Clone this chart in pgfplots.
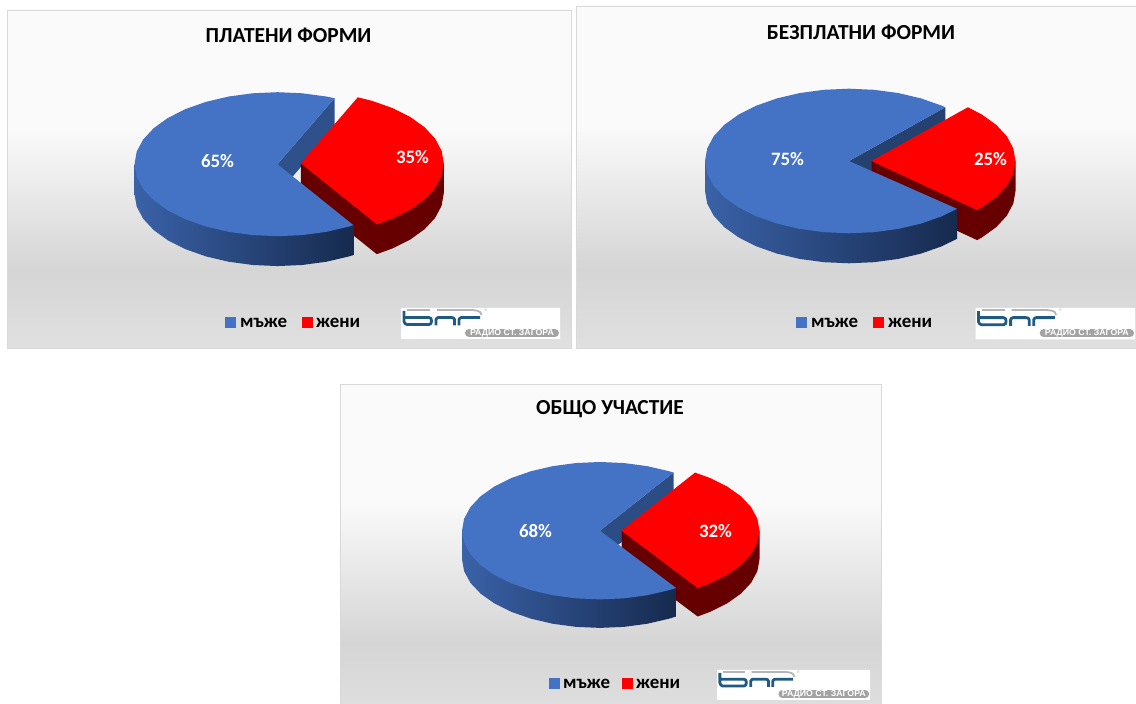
\documentclass[border=0pt]{standalone}
\usepackage{pgfplots}
\pgfplotsset{compat=1.18}
\usepackage{fontspec}
\setmainfont{Carlito}
\newfontfamily\logofont{Liberation Sans}
\definecolor{pA}{HTML}{E0E0E0}
\definecolor{pB}{HTML}{D5D5D5}
\definecolor{pC}{HTML}{FAFAFA}
\definecolor{bord}{HTML}{D9D9D9}
\definecolor{btop}{HTML}{4472C4}
\definecolor{bwl}{HTML}{3A62A8}
\definecolor{bwm}{HTML}{2C4C84}
\definecolor{bwr}{HTML}{162A4E}
\definecolor{dred}{HTML}{660000}
\definecolor{lgdark}{HTML}{1F5A82}
\definecolor{lggray}{HTML}{B4B4B4}
\definecolor{lgpill}{HTML}{A3A3A3}
\pgfdeclareverticalshading{panelbg}{100bp}{color(0bp)=(pA); color(25bp)=(pA); color(36.5bp)=(pB); color(57.5bp)=(pC); color(100bp)=(pC)}
\pgfplotsset{
  pixel/.style={at={(0bp,0bp)},anchor=south west,scale only axis,width=1136bp,height=704bp,
    xmin=0,xmax=1136,ymin=0,ymax=704,y dir=reverse,hide axis},
  pie/.style={anchor=south west,scale only axis,xmin=-1,xmax=1,ymin=-1,ymax=1,hide axis,clip=false},
}
\newcommand{\logo}[4]{%
\begin{axis}[anchor=south west,at={(#1bp,#2bp)},scale only axis,width=#3bp,height=#4bp,
  xmin=401,xmax=560,ymin=308,ymax=339,y dir=reverse,hide axis,clip=false]
\addplot[fill=white,draw=none,no marks] coordinates {(401,308) (560,308) (560,339) (401,339) (401,308)};
\addplot[draw=lggray,line width=1.8bp,no marks] coordinates {(407,310) (430,310)};
\addplot[draw=lggray,line width=1.8bp,no marks] coordinates {(437,310) (472,310) (477,310.6) (480,312) (481.5,315)};
\addplot[draw=lgdark,line width=2.8bp,no marks,line join=round] coordinates {(404,311) (404,321.5) (405,323.5) (407,324.5) (429,324.5) (431,323.5) (431.5,321) (431,318.5) (429,317.5) (404,317.5)};
\addplot[draw=lgdark,line width=2.8bp,no marks,line join=round] coordinates {(436,325.5) (436,319.5) (437,318) (438.5,317.5) (451.5,317.5) (453.5,318) (454.5,319.5) (454.5,325.5)};
\addplot[draw=lgdark,line width=2.8bp,no marks,line join=round] coordinates {(459,325.5) (459,319.5) (460,318) (461.5,317.5) (480,317.5)};
\addplot[draw=lgpill,line width=8bp,line cap=round,no marks] coordinates {(469,333) (555,333)};
\node[text=white,font=\logofont\bfseries\fontsize{8.8}{8.8}\selectfont,inner sep=0pt] at (axis cs:512,333.2) {РАДИО СТ. ЗАГОРА};
\node[text=lggray,font=\logofont\fontsize{4}{4}\selectfont,inner sep=0pt] at (axis cs:485.5,310.5) {®};
\end{axis}}
\begin{document}
\begin{tikzpicture}
% panels
\begin{axis}[pixel]
\addplot[fill=white,draw=none,no marks] coordinates {(0,0) (1136,0) (1136,704) (0,704) (0,0)};
\addplot[shade,shading=panelbg,draw=bord,line width=0.8bp,no marks] coordinates {(7.5,10) (571,10) (571,348) (7.5,348) (7.5,10)};
\addplot[shade,shading=panelbg,draw=bord,line width=0.8bp,no marks] coordinates {(576.5,6) (1137,6) (1137,348) (576.5,348) (576.5,6)};
\addplot[shade,shading=panelbg,draw=bord,line width=0.8bp,no marks] coordinates {(340.5,384) (881,384) (881,720) (340.5,720) (340.5,384)};
\end{axis}
% pie 1: 65 / 35
\begin{axis}[pie,at={(134.5bp,467.8bp)},width=286bp,height=144bp]
\addplot[fill=bwm!105!black,draw=none,no marks] coordinates {(0,0) (0.3987,0.9171) (0.3987,0.5021) (0,-0.415) (0,0)};
\addplot[fill=dred,draw=none,no marks,xshift=23.3bp,yshift=0.9bp] coordinates {(0,0) (0,-0.415) (0.5314,-1.2621) (0.6428,-1.181) (0.766,-1.0578) (0.866,-0.915) (0.9397,-0.757) (0.9848,-0.5886) (1,-0.415) (1,0) (0,0)};
\addplot[fill=red,draw=none,no marks,xshift=23.3bp,yshift=0.9bp] coordinates {(0,0) (0.5314,-0.8471) (0.6428,-0.766) (0.766,-0.6428) (0.866,-0.5) (0.9397,-0.342) (0.9848,-0.1736) (1,0) (0.9848,0.1736) (0.9397,0.342) (0.866,0.5) (0.766,0.6428) (0.6428,0.766) (0.5,0.866) (0.3987,0.9171) (0,0)};
\addplot[left color=bwl,middle color=bwm,right color=bwr,draw=none,no marks] coordinates {(-1,0) (0.5314,-0.8471) (0.5314,-1.2621) (0.5,-1.281) (0.342,-1.3547) (0.1736,-1.3998) (0,-1.415) (-0.1736,-1.3998) (-0.342,-1.3547) (-0.5,-1.281) (-0.6428,-1.181) (-0.766,-1.0578) (-0.866,-0.915) (-0.9397,-0.757) (-0.9848,-0.5886) (-1,-0.415) (-1,0)};
\addplot[fill=btop,draw=none,no marks] coordinates {(0,0) (0.3987,0.9171) (0.342,0.9397) (0.1736,0.9848) (0,1) (-0.1736,0.9848) (-0.342,0.9397) (-0.5,0.866) (-0.6428,0.766) (-0.766,0.6428) (-0.866,0.5) (-0.9397,0.342) (-0.9848,0.1736) (-1,0) (-0.9848,-0.1736) (-0.9397,-0.342) (-0.866,-0.5) (-0.766,-0.6428) (-0.6428,-0.766) (-0.5,-0.866) (-0.342,-0.9397) (-0.1736,-0.9848) (0,-1) (0.1736,-0.9848) (0.342,-0.9397) (0.5,-0.866) (0.5314,-0.8471) (0,0)};
\end{axis}
% pie 2: 75 / 25
\begin{axis}[pie,at={(705bp,470.7bp)},width=288bp,height=144.6bp]
\addplot[fill=bwm!85!black,draw=none,no marks] coordinates {(0,0) (0.6691,0.7431) (0.6691,0.3281) (0,-0.415) (0,0)};
\addplot[fill=dred,draw=none,no marks,xshift=22.5bp] coordinates {(0,0) (0,-0.415) (0.7337,-1.0944) (0.766,-1.0578) (0.866,-0.915) (0.9397,-0.757) (0.9848,-0.5886) (1,-0.415) (1,0) (0,0)};
\addplot[fill=red,draw=none,no marks,xshift=22.5bp] coordinates {(0,0) (0.7337,-0.6794) (0.766,-0.6428) (0.866,-0.5) (0.9397,-0.342) (0.9848,-0.1736) (1,0) (0.9848,0.1736) (0.9397,0.342) (0.866,0.5) (0.766,0.6428) (0.6691,0.7431) (0,0)};
\addplot[left color=bwl,middle color=bwm,right color=bwr,draw=none,no marks] coordinates {(-1,0) (0.75,-0.6614) (0.75,-1.0764) (0.6428,-1.181) (0.5,-1.281) (0.342,-1.3547) (0.1736,-1.3998) (0,-1.415) (-0.1736,-1.3998) (-0.342,-1.3547) (-0.5,-1.281) (-0.6428,-1.181) (-0.766,-1.0578) (-0.866,-0.915) (-0.9397,-0.757) (-0.9848,-0.5886) (-1,-0.415) (-1,0)};
\addplot[fill=btop,draw=none,no marks] coordinates {(0,0) (0.6691,0.7431) (0.6428,0.766) (0.5,0.866) (0.342,0.9397) (0.1736,0.9848) (0,1) (-0.1736,0.9848) (-0.342,0.9397) (-0.5,0.866) (-0.6428,0.766) (-0.766,0.6428) (-0.866,0.5) (-0.9397,0.342) (-0.9848,0.1736) (-1,0) (-0.9848,-0.1736) (-0.9397,-0.342) (-0.866,-0.5) (-0.766,-0.6428) (-0.6428,-0.766) (-0.5,-0.866) (-0.342,-0.9397) (-0.1736,-0.9848) (0,-1) (0.1736,-0.9848) (0.342,-0.9397) (0.5,-0.866) (0.6428,-0.766) (0.75,-0.6614) (0,0)};
\end{axis}
% pie 3: 68 / 32
\begin{axis}[pie,at={(462bp,104.6bp)},width=276bp,height=137.4bp]
\addplot[fill=bwm,draw=none,no marks] coordinates {(0,0) (0.5329,0.8462) (0.5329,0.4312) (0,-0.415) (0,0)};
\addplot[fill=dred,draw=none,no marks,xshift=21.5bp] coordinates {(0,0) (0,-0.415) (0.5519,-1.2489) (0.6428,-1.181) (0.766,-1.0578) (0.866,-0.915) (0.9397,-0.757) (0.9848,-0.5886) (1,-0.415) (1,0) (0,0)};
\addplot[fill=red,draw=none,no marks,xshift=21.5bp] coordinates {(0,0) (0.5519,-0.8339) (0.6428,-0.766) (0.766,-0.6428) (0.866,-0.5) (0.9397,-0.342) (0.9848,-0.1736) (1,0) (0.9848,0.1736) (0.9397,0.342) (0.866,0.5) (0.766,0.6428) (0.6428,0.766) (0.5329,0.8462) (0,0)};
\addplot[left color=bwl,middle color=bwm,right color=bwr,draw=none,no marks] coordinates {(-1,0) (0.5519,-0.8339) (0.5519,-1.2489) (0.5,-1.281) (0.342,-1.3547) (0.1736,-1.3998) (0,-1.415) (-0.1736,-1.3998) (-0.342,-1.3547) (-0.5,-1.281) (-0.6428,-1.181) (-0.766,-1.0578) (-0.866,-0.915) (-0.9397,-0.757) (-0.9848,-0.5886) (-1,-0.415) (-1,0)};
\addplot[fill=btop,draw=none,no marks] coordinates {(0,0) (0.5329,0.8462) (0.5,0.866) (0.342,0.9397) (0.1736,0.9848) (0,1) (-0.1736,0.9848) (-0.342,0.9397) (-0.5,0.866) (-0.6428,0.766) (-0.766,0.6428) (-0.866,0.5) (-0.9397,0.342) (-0.9848,0.1736) (-1,0) (-0.9848,-0.1736) (-0.9397,-0.342) (-0.866,-0.5) (-0.766,-0.6428) (-0.6428,-0.766) (-0.5,-0.866) (-0.342,-0.9397) (-0.1736,-0.9848) (0,-1) (0.1736,-0.9848) (0.342,-0.9397) (0.5,-0.866) (0.5519,-0.8339) (0,0)};
\end{axis}
% logos
\logo{401}{365}{159}{31}
\logo{975.5}{364.5}{159.5}{31.5}
\logo{717}{4}{153}{30}
% texts and legends
\begin{axis}[pixel]
\addplot[only marks,mark=square*,mark size=5bp,mark options={fill=btop,draw=btop}] coordinates {(230.5,322) (801,322) (554,683)};
\addplot[only marks,mark=square*,mark size=5bp,mark options={fill=red,draw=red}] coordinates {(307,322) (878.5,322) (627,683)};
\tikzset{ttl/.style={font=\bfseries\fontsize{21.5}{21.5}\selectfont,text=black,inner sep=0pt},
 pct/.style={font=\bfseries\fontsize{19}{19}\selectfont,text=white,inner sep=0pt},
 leg/.style={font=\bfseries\fontsize{19}{19}\selectfont,text=black,inner sep=0pt,anchor=base west}}
\node[ttl] at (axis cs:288.5,35) {ПЛАТЕНИ ФОРМИ};
\node[ttl] at (axis cs:861,32) {БЕЗПЛАТНИ ФОРМИ};
\node[ttl] at (axis cs:610,409) {ОБЩО УЧАСТИЕ};
\node[pct] at (axis cs:217.5,161) {65\%};
\node[pct] at (axis cs:412.5,157) {35\%};
\node[pct] at (axis cs:787.5,159) {75\%};
\node[pct] at (axis cs:990.5,159) {25\%};
\node[pct] at (axis cs:535.5,531) {68\%};
\node[pct] at (axis cs:715.5,531) {32\%};
\node[leg] at (axis cs:240,327) {мъже};
\node[leg] at (axis cs:316,327) {жени};
\node[leg] at (axis cs:811,327) {мъже};
\node[leg] at (axis cs:888,327) {жени};
\node[leg] at (axis cs:563,688) {мъже};
\node[leg] at (axis cs:636,688) {жени};
\end{axis}
\end{tikzpicture}
\end{document}
